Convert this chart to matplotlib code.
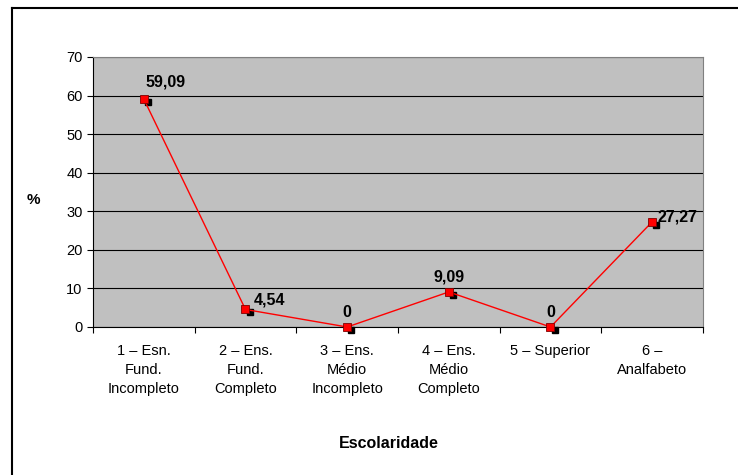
import matplotlib.pyplot as plt
from matplotlib.lines import Line2D

categories = ["1 – Esn.\nFund.\nIncompleto", "2 – Ens.\nFund.\nCompleto",
              "3 – Ens.\nMédio\nIncompleto", "4 – Ens.\nMédio\nCompleto",
              "5 – Superior", "6 –\nAnalfabeto"]
values = [59.09, 4.54, 0, 9.09, 0, 27.27]
labels = ["59,09", "4,54", "0", "9,09", "0", "27,27"]

plt.rcParams['font.family'] = ['Liberation Sans', 'DejaVu Sans']

fig = plt.figure(figsize=(7.38, 4.75), dpi=100)
ax = fig.add_axes([93 / 738, 1 - 327 / 475, 610 / 738, 270 / 475])
ax.set_facecolor('#c0c0c0')

x = list(range(len(values)))
# marker shadow
ax.plot([i + 0.04 for i in x], [v - 0.7 for v in values], 's', color='black',
        markersize=5, zorder=3, clip_on=False)
ax.plot(x, values, '-s', color='red', lw=1, markersize=6,
        markerfacecolor='red', markeredgecolor='#800000', markeredgewidth=0.6,
        zorder=4, clip_on=False)

for i, (v, lab) in enumerate(zip(values, labels)):
    if i == 0:
        ax.text(i + 0.02, v + 2.5, lab, ha='left', va='bottom', fontsize=11.5, fontweight='bold')
    elif i == 1:
        ax.text(i + 0.08, v + 0.5, lab, ha='left', va='bottom', fontsize=11.5, fontweight='bold')
    elif i == 5:
        ax.text(i + 0.05, v + 1.2, lab, ha='left', va='center', fontsize=11.5, fontweight='bold')
    else:
        ax.text(i, v + 1.8, lab, ha='center', va='bottom', fontsize=11.5, fontweight='bold')

ax.set_xlim(-0.5, len(values) - 0.5)
ax.set_ylim(0, 70)
ax.set_yticks(range(0, 71, 10))
ax.set_xticks([i - 0.5 for i in range(len(values) + 1)])
ax.set_xticklabels([])
ax.set_xticks(x, minor=True)
ax.set_xticklabels(categories, minor=True, fontsize=10.5, linespacing=1.45)
ax.tick_params(axis='x', which='minor', length=0, pad=12)
ax.tick_params(axis='x', which='major', length=4, direction='out')
ax.tick_params(axis='y', length=4, labelsize=10.5)
ax.yaxis.grid(True, color='black', lw=0.8)
ax.set_axisbelow(True)
for s in ['top', 'right']:
    ax.spines[s].set_color('#808080')
for s in ['left', 'bottom']:
    ax.spines[s].set_color('black')

fig.text(33 / 738, 1 - 200 / 475, '%', ha='center', va='center', fontsize=11, fontweight='bold')
fig.text(389 / 738, 1 - 443 / 475, 'Escolaridade', ha='center', va='center',
         fontsize=11.5, fontweight='bold')

# outer chart frame (left and top only visible)
fig.add_artist(Line2D([12 / 738, 12 / 738], [0, 1 - 8 / 475], color='black', lw=1.5))
fig.add_artist(Line2D([12 / 738, 1], [1 - 8 / 475, 1 - 8 / 475], color='black', lw=1.5))

fig.savefig('out.png', dpi=100)
